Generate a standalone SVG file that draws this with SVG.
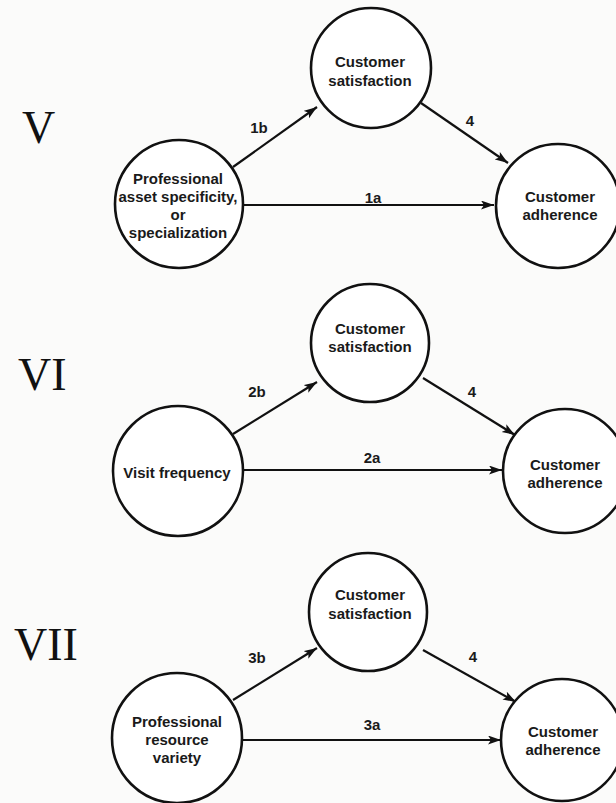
<svg xmlns="http://www.w3.org/2000/svg" width="616" height="803" viewBox="0 0 616 803">
  <defs>
    <marker id="arrow" markerUnits="userSpaceOnUse" markerWidth="14" markerHeight="10" refX="13" refY="4.5" orient="auto">
      <path d="M0,0 L13,4.5 L0,9 L3,4.5 z" fill="#111"/>
    </marker>
    <style>
      .node circle { fill: #fff; stroke: #111; stroke-width: 2.6; }
      .node text, .lbl { font-family: "Liberation Sans", Arial, sans-serif; font-weight: bold; font-size: 15px; fill: #1a1a1a; text-anchor: middle; }
      .edge { stroke: #111; stroke-width: 2.2; fill: none; marker-end: url(#arrow); }
      .num { font-family: "Liberation Serif", "Times New Roman", serif; font-size: 46px; fill: #111; }
    </style>
  </defs>
  <rect width="616" height="803" fill="#fbfbfa"/>

  <!-- model labels -->
  <text class="num" x="22" y="143">V</text>
  <text class="num" x="18" y="390">VI</text>
  <text class="num" x="14" y="660">VII</text>

  <!-- connectors -->
  <g id="connectors">
    <path class="edge" d="M243,205 H494"/>
    <path class="edge" d="M233,167 L317,107"/>
    <path class="edge" d="M421,103 L508,163"/>
    <path class="edge" d="M243,470 H502"/>
    <path class="edge" d="M233,434 L317,382"/>
    <path class="edge" d="M423,378 L515,435"/>
    <path class="edge" d="M242,740 H501"/>
    <path class="edge" d="M233,700 L317,648"/>
    <path class="edge" d="M423,650 L516,702"/>
    <text class="lbl" x="373" y="203">1a</text>
    <text class="lbl" x="259" y="133">1b</text>
    <text class="lbl" x="470" y="126">4</text>
    <text class="lbl" x="372" y="463">2a</text>
    <text class="lbl" x="257" y="397">2b</text>
    <text class="lbl" x="472" y="397">4</text>
    <text class="lbl" x="372" y="730">3a</text>
    <text class="lbl" x="257" y="663">3b</text>
    <text class="lbl" x="473" y="662">4</text>
  </g>

  <!-- model V -->
  <g id="v-specificity" class="node">
    <circle cx="179" cy="204" r="64"/>
    <text x="178" y="184">Professional</text>
    <text x="178" y="202">asset specificity,</text>
    <text x="178" y="220">or</text>
    <text x="178" y="238">specialization</text>
  </g>
  <g id="v-satisfaction" class="node">
    <circle cx="371" cy="68" r="60"/>
    <text x="370" y="67">Customer</text>
    <text x="370" y="86">satisfaction</text>
  </g>
  <g id="v-adherence" class="node">
    <circle cx="558" cy="206" r="62"/>
    <text x="560" y="202">Customer</text>
    <text x="560" y="220">adherence</text>
  </g>

  <!-- model VI -->
  <g id="vi-frequency" class="node">
    <circle cx="178" cy="471" r="65"/>
    <text x="177" y="478">Visit frequency</text>
  </g>
  <g id="vi-satisfaction" class="node">
    <circle cx="370" cy="343" r="59"/>
    <text x="370" y="334">Customer</text>
    <text x="370" y="352">satisfaction</text>
  </g>
  <g id="vi-adherence" class="node">
    <circle cx="565" cy="471" r="62"/>
    <text x="565" y="470">Customer</text>
    <text x="565" y="488">adherence</text>
  </g>

  <!-- model VII -->
  <g id="vii-variety" class="node">
    <circle cx="177" cy="738" r="65"/>
    <text x="177" y="727">Professional</text>
    <text x="177" y="745">resource</text>
    <text x="177" y="763">variety</text>
  </g>
  <g id="vii-satisfaction" class="node">
    <circle cx="368" cy="612" r="59"/>
    <text x="370" y="600">Customer</text>
    <text x="370" y="619">satisfaction</text>
  </g>
  <g id="vii-adherence" class="node">
    <circle cx="562" cy="740" r="61"/>
    <text x="563" y="737">Customer</text>
    <text x="563" y="755">adherence</text>
  </g>
</svg>
